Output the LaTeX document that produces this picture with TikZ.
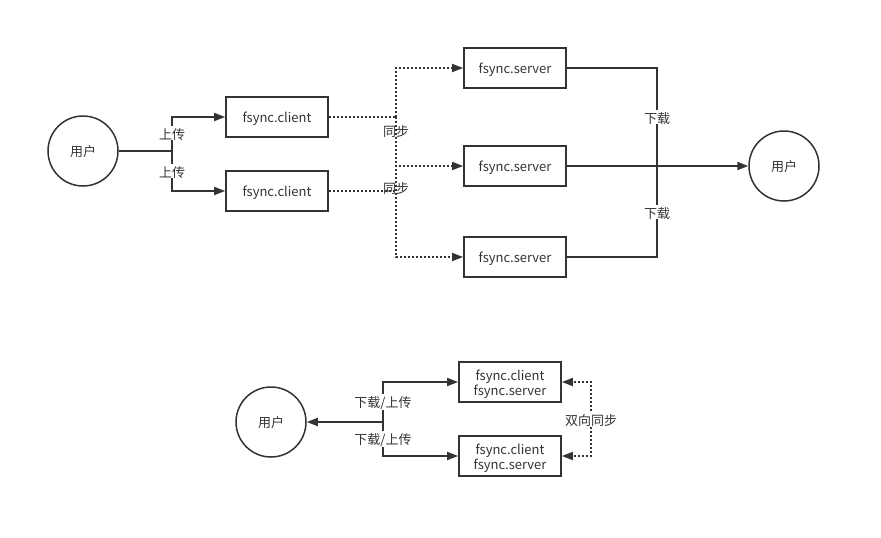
\documentclass[tikz,border=0pt]{standalone}
\usepackage{fontspec}
\setmainfont{Noto Sans CJK SC}
\usetikzlibrary{arrows.meta}
\newcommand\dn[2][2pt]{\raisebox{-#1}[\height][\depth]{#2}}
\newcommand\twol[2]{\dn[2.5pt]{\begin{tabular}{@{}c@{}}#1\\[-1pt]#2\end{tabular}}}
\begin{document}
\begin{tikzpicture}[x=1pt,y=-1pt,
  every node/.style={font=\fontsize{13}{16}\selectfont, text=black!80},
  user/.style={circle, draw=black!80, line width=1.5pt, minimum size=70pt, inner sep=0pt},
  box/.style={rectangle, draw=black!80, line width=1.8pt, minimum width=102pt, minimum height=40pt, inner sep=0pt, align=center},
  conn/.style={draw=black!80, line width=1.8pt},
  dots/.style={draw=black!80, line width=1.8pt, dash pattern=on 2pt off 2pt},
  tip/.style={-{Triangle[length=11pt,width=8pt]}},
  lbl/.style={fill=white, inner sep=1pt}]
\useasboundingbox (0,0) rectangle (881,538);
% top part
\node[user] (u1) at (83,151) {\dn[1pt]{用户}};
\node[box] (c1) at (277,117) {\dn{fsync.client}};
\node[box] (c2) at (277,191) {\dn{fsync.client}};
\node[box] (s1) at (515,68) {\dn{fsync.server}};
\node[box] (s2) at (515,166) {\dn{fsync.server}};
\node[box] (s3) at (515,257) {\dn{fsync.server}};
\node[user] (u2) at (784,166) {\dn[1pt]{用户}};
\coordinate (j1) at (172,151);
\coordinate (j2) at (396,117);
\coordinate (j3) at (657,166);
\draw[conn] (u1) -- (j1);
\draw[conn,tip] (j1) |- (c1);
\draw[conn,tip] (j1) |- (c2);
\node[lbl] at (172,133) {\dn[1.5pt]{上传}};
\node[lbl] at (172,171) {\dn[1.5pt]{上传}};
\draw[dots] (c1) -- (j2);
\draw[dots,tip] (j2) |- (s1);
\draw[dots,tip] (j2) |- (s2);
\draw[dots,tip] (j2) |- (s3);
\draw[dots] (c2.east) -- (j2 |- c2);
\node[lbl, fill=none] at (396,130) {\dn[1.5pt]{同步}};
\node[lbl, fill=none] at (396,187) {\dn[1.5pt]{同步}};
\draw[conn] (s1) -| (j3);
\draw[conn] (s3) -| (j3);
\draw[conn,tip] (s2) -- (u2);
\node[lbl] at (657,117) {\dn[1.5pt]{下载}};
\node[lbl] at (657,212) {\dn[1.5pt]{下载}};
% bottom part
\node[user] (u3) at (271,422) {\dn[1pt]{用户}};
\node[box] (b1) at (510,382) {\twol{fsync.client}{fsync.server}};
\node[box] (b2) at (510,456) {\twol{fsync.client}{fsync.server}};
\coordinate (k1) at (383,422);
\coordinate (k2) at (591,419);
\draw[conn,tip] (k1) -- (u3);
\draw[conn,tip] (k1) |- (b1);
\draw[conn,tip] (k1) |- (b2);
\node[lbl] at (383,402) {\dn[1.5pt]{下载/上传}};
\node[lbl] at (383,439) {\dn[1.5pt]{下载/上传}};
\draw[dots,tip] (k2) |- (b1);
\draw[dots,tip] (k2) |- (b2);
\node[lbl] at (591,419) {\dn[1.5pt]{双向同步}};
\end{tikzpicture}
\end{document}
